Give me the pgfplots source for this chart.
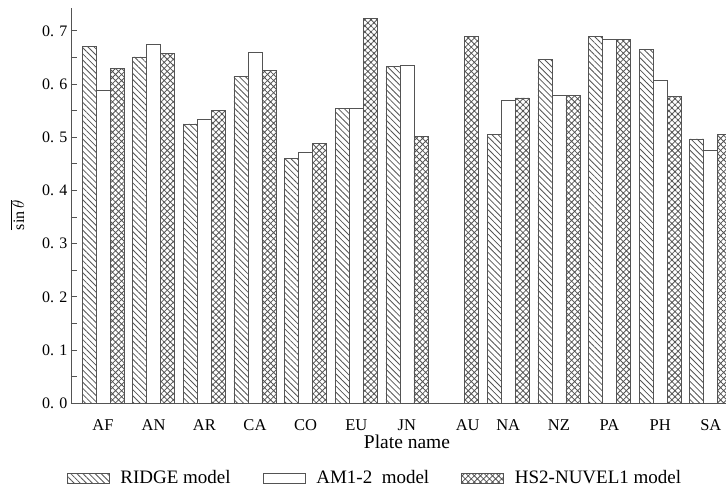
\documentclass[border=0pt]{standalone}
\usepackage{fontspec}
\setmainfont{Liberation Serif}
\usepackage{pgfplots}
\pgfplotsset{compat=1.18}
\usetikzlibrary{patterns.meta}
\definecolor{ink}{gray}{0.33}

\begin{document}
\begin{tikzpicture}
\useasboundingbox (-71bp,-84.7bp) rectangle (655bp,403.3bp);
\begin{axis}[
  at={(0,0)}, anchor=south west,
  scale only axis, width=655bp, height=395.3bp,
  xmin=-0.632, xmax=12.30, ymin=0, ymax=0.743,
  axis lines=left,
  axis line style={-, draw=ink, line width=0.9bp},
  ybar=0pt, bar width=14bp,
  xtick={0,1,2,3,4,5,6,7.2,8,9,10,11,12},
  xticklabels={AF,AN,AR,CA,CO,EU,JN,AU,NA,NZ,PA,PH,SA},
  x tick style={draw=none},
  xticklabel style={font=\fontsize{16.5bp}{18bp}\selectfont, yshift=-13bp},
  ytick={0,0.1,0.2,0.3,0.4,0.5,0.6,0.7},
  yticklabels={{0.\,\,0},{0.\,\,1},{0.\,\,2},{0.\,\,3},{0.\,\,4},{0.\,\,5},{0.\,\,6},{0.\,\,7}},
  yticklabel style={font=\fontsize{16bp}{18bp}\selectfont, xshift=0bp},
  minor y tick num=1,
  tick align=inside,
  major tick length=6bp, minor tick length=6bp,
  y tick style={draw=ink, line width=0.8bp},
  xlabel={Plate name},
  xlabel style={font=\fontsize{19.5bp}{22bp}\selectfont, at={(axis description cs:0.513,-0.1156)}, anchor=base},
  ylabel={$\overline{\sin\theta}$},
  ylabel style={font=\fontsize{16bp}{18bp}\selectfont, at={(axis description cs:-0.082,0.476)}, anchor=center},
  legend columns=3,
  legend style={draw=none, font=\fontsize{19bp}{22bp}\selectfont, at={(axis description cs:0.464,-0.189)}, anchor=center,
    /tikz/every odd column/.append style={column sep=9bp},
    /tikz/every even column/.append style={column sep=30bp}},
  legend image code/.code={\draw[#1, line width=0.7bp] (0bp,-5bp) rectangle (42bp,5bp);},
  clip=true,
]
\addplot[draw=ink, line width=0.7bp, pattern={Lines[angle=-45, distance=4.3bp, line width=0.8bp]}, pattern color=ink]
coordinates {(0,0.670) (1,0.651) (2,0.525) (3,0.614) (4,0.461) (5,0.555) (6,0.633) (8,0.505) (9,0.647) (10,0.689) (11,0.665) (12,0.497)};
\addlegendentry{RIDGE\ model}
\addplot[draw=ink, line width=0.7bp, fill=white]
coordinates {(0,0.588) (1,0.675) (2,0.533) (3,0.660) (4,0.471) (5,0.555) (6,0.636) (8,0.569) (9,0.579) (10,0.684) (11,0.607) (12,0.476)};
\addlegendentry{AM1-2\ \ model}
\addplot[draw=ink, line width=0.7bp, pattern={Hatch[angle=45, distance=4.3bp, line width=0.8bp]}, pattern color=ink]
coordinates {(0,0.629) (1,0.657) (2,0.551) (3,0.625) (4,0.488) (5,0.723) (6,0.502) (7,0.689) (8,0.574) (9,0.579) (10,0.684) (11,0.577) (12,0.505)};
\addlegendentry{HS2-NUVEL1 model}
\end{axis}
\end{tikzpicture}
\end{document}
